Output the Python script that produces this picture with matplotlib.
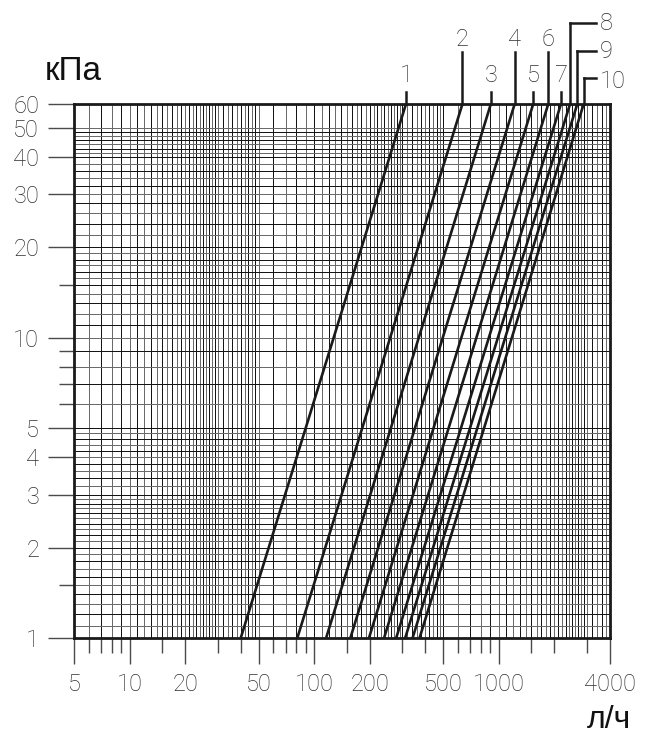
import numpy as np
import matplotlib
matplotlib.use('Agg')
import matplotlib.pyplot as plt
import matplotlib.transforms as mtransforms

# flow (л/ч) where each curve crosses 1 kPa and 60 kPa
curve_names = ['1', '2', '3', '4', '5', '6', '7', '8', '9', '10']
flow_at_1kpa = [40, 81, 116, 157, 198, 239, 278, 311, 341, 372]
flow_at_60kpa = [314, 635, 905, 1218, 1535, 1852, 2170, 2430, 2660, 2880]
dp_ends = [1, 60]

x_ticks = [5, 10, 20, 50, 100, 200, 500, 1000, 4000]
x_minor_ticks = [6, 7, 8, 9, 15, 30, 40, 60, 70, 80, 90, 150, 300, 400,
                 600, 700, 800, 900, 1500, 2000, 3000]
y_ticks = [1, 2, 3, 4, 5, 10, 20, 30, 40, 50, 60]
y_minor_ticks = [1.5, 6, 7, 8, 9, 15]

# graph paper lines
xgrid = []
for b in [1, 10, 100, 1000]:
    xgrid += list(b * np.arange(1.0, 3.0, 0.1))
    xgrid += list(b * np.arange(3.0, 5.0, 0.2))
    xgrid += list(b * np.arange(5.0, 10.0, 1.0))
xgrid = [v for v in xgrid if 5 < v < 3999]
ygrid = (list(np.arange(1.1, 3.0, 0.1)) + list(np.arange(3.0, 5.0, 0.2)) +
         list(np.arange(5, 15, 1)) + [15, 15.8, 16.6, 17.4, 18.2, 19.1] +
         list(np.arange(20, 40, 2)) + [40, 41.3, 42.6, 44, 45.4, 46.8, 48.3, 50])

W, H = 653, 736
fig = plt.figure(figsize=(W / 100, H / 100), dpi=100)
L, R, T, B = 74, 610, 104, 638
ax = fig.add_axes([L / W, 1 - B / H, (R - L) / W, (B - T) / H])
ax.set_xscale('log')
ax.set_yscale('log')
ax.set_xlim(5, 4000)
ax.set_ylim(1, 60)

dark, grey = '#141414', '#6a6a6a'
for i, v in enumerate(xgrid):
    ax.axvline(v, color=dark if i % 2 else grey, lw=0.7, zorder=1,
               antialiased=False)
for i, v in enumerate(ygrid):
    ax.axhline(v, color=dark if i % 2 else grey, lw=0.7, zorder=1,
               antialiased=False)

for q1, q60 in zip(flow_at_1kpa, flow_at_60kpa):
    ax.plot([q1, q60], dp_ends, color='#1a1a1a', lw=1.9, zorder=3,
            solid_capstyle='butt')

for s in ax.spines.values():
    s.set_linewidth(2.0)
    s.set_color('#1a1a1a')

num_font = dict(family='Roboto', weight='light', size=17, color='#2e2e2e')

ax.set_xticks(x_ticks)
ax.set_xticks(x_minor_ticks, minor=True)
ax.set_xticklabels([str(v) for v in x_ticks], fontdict=num_font)
ax.set_xticklabels([], minor=True)
ax.set_yticks(y_ticks)
ax.set_yticks(y_minor_ticks, minor=True)
ax.set_yticklabels([str(v) for v in y_ticks], fontdict=num_font)
ax.set_yticklabels([], minor=True)
ax.tick_params(which='major', direction='out', length=19, width=1.0,
               color='#4a4a4a', pad=6)
ax.tick_params(which='minor', direction='out', length=10.5, width=1.0,
               color='#4a4a4a')

# curve numbers with leader lines above the frame
tr = mtransforms.blended_transform_factory(ax.transData, ax.transAxes)
def fy(py):
    return (B - py) / (B - T)

for i, (name, q) in enumerate(zip(curve_names, flow_at_60kpa)):
    if i < 7:
        top, ty = (92, 76) if i % 2 == 0 else (52, 39)
        ax.plot([q, q], [1, fy(top)], transform=tr, color='#1a1a1a',
                lw=1.8, clip_on=False, zorder=3)
        ax.text(q, fy(ty), name, transform=tr, ha='center', va='center',
                fontdict=num_font)
    else:
        top, ty = {7: (23, 24), 8: (51, 51), 9: (78, 82)}[i]
        xe = (596 - L) / (R - L)
        ax.plot([q, q], [1, fy(top)], transform=tr, color='#1a1a1a',
                lw=1.8, clip_on=False, zorder=3)
        ax.plot([q, 10 ** (np.log10(5) + xe * np.log10(800))], [fy(top)] * 2,
                transform=tr, color='#1a1a1a', lw=1.8, clip_on=False,
                zorder=3)
        ax.text(600 / W, 1 - ty / H, name, transform=fig.transFigure,
                ha='left', va='center', fontdict=num_font)

fig.text(45 / W, 1 - 72 / H, 'кПа', family='Liberation Sans', size=24,
         ha='left', va='center', color='#111111')
fig.text(609 / W, 1 - 720 / H, 'л/ч', family='Liberation Sans', size=23,
         ha='center', va='center', color='#111111')

fig.savefig('out.png', dpi=100)
